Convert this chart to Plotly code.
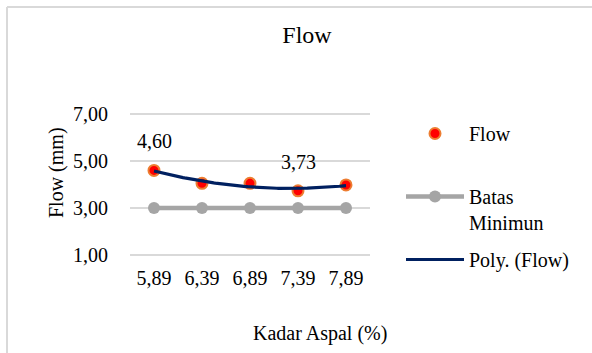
import numpy as np
import plotly.graph_objects as go

# Asphalt content (%) and measured flow (mm)
kadar_aspal = [5.89, 6.39, 6.89, 7.39, 7.89]
flow = [4.60, 4.05, 4.05, 3.73, 3.98]
batas_minimum = [3.00, 3.00, 3.00, 3.00, 3.00]
# which points carry a value label
labelled = [True, False, False, True, False]

y_ticks = [1, 3, 5, 7]

FONT = "Liberation Serif"
idx = list(range(len(kadar_aspal)))
cat_text = [f"{v:.2f}".replace(".", ",") for v in kadar_aspal]

# second-order polynomial trendline of the flow series (index based, like a category axis)
coef = np.polyfit(np.array(idx) + 1, flow, 2)
xs = np.linspace(0, len(idx) - 1, 120)
ys = np.polyval(coef, xs + 1)

# plot area in pixels
L, R, T, B = 130, 370, 112, 257
W, H = R - L, B - T
# value padding so each 2 px gridline sits on whole pixel rows (23.5 px per unit)
PAD = 2 / 23.5


def px_x(p):
    return (p - L) / W


def px_y(p):
    return (B - p) / H


fig = go.Figure()
fig.add_trace(go.Scatter(
    x=idx, y=flow, mode="markers", name="Flow<br>&nbsp;", legendgroup="a",
    marker=dict(size=11, color="#FF0000", line=dict(color="#ED7D31", width=2)),
))
fig.add_trace(go.Scatter(
    x=idx, y=batas_minimum, mode="lines+markers", name="Batas<br>Minimun", legendgroup="b",
    line=dict(color="#A5A5A5", width=4.5),
    marker=dict(size=12, color="#A5A5A5"),
))
fig.add_trace(go.Scatter(
    x=xs, y=ys, mode="lines", name="Poly. (Flow)", legendgroup="c",
    line=dict(color="#002060", width=3.2),
))

# horizontal gridlines at the value ticks, beneath the traces
for t in y_ticks:
    fig.add_shape(type="line", xref="paper", yref="y", x0=0, x1=1, y0=t, y1=t,
                  line=dict(color="#D9D9D9", width=2), layer="between")

# value labels above selected points
for i, v, show in zip(idx, flow, labelled):
    if show:
        fig.add_annotation(x=i, y=v, text=f"{v:.2f}".replace(".", ","), showarrow=False,
                           xanchor="center", yanchor="middle", yshift=29,
                           font=dict(family=FONT, size=20, color="#000000"))

# axis titles
fig.add_annotation(xref="paper", yref="paper", x=px_x(320), y=px_y(333),
                   xanchor="center", yanchor="middle",
                   text="Kadar Aspal (%)", showarrow=False,
                   font=dict(family=FONT, size=20, color="#000000"))
fig.add_annotation(xref="paper", yref="paper", x=px_x(56), y=px_y(173),
                   xanchor="center", yanchor="middle",
                   text="Flow (mm)", textangle=-90, showarrow=False,
                   font=dict(family=FONT, size=20, color="#000000"))

# chart frame
frame = dict(color="#D9D9D9", width=2)
fig.add_shape(type="line", xref="paper", yref="paper",
              x0=px_x(7), x1=3, y0=px_y(7), y1=px_y(7), line=frame)
fig.add_shape(type="line", xref="paper", yref="paper",
              x0=px_x(7), x1=px_x(7), y0=px_y(7), y1=-3, line=frame)

fig.update_layout(
    width=592, height=353,
    margin=dict(l=L, r=592 - R, t=T, b=353 - B),
    paper_bgcolor="white", plot_bgcolor="white",
    separators=",.",
    font=dict(family=FONT, size=20, color="#000000"),
    title=dict(text="Flow", x=307 / 592, xref="container", xanchor="center",
               y=1 - 35 / 353, yref="container", yanchor="middle",
               font=dict(family=FONT, size=24, color="#000000")),
    showlegend=True,
    legend=dict(x=px_x(401), xanchor="left", y=px_y(114), yanchor="top",
                valign="top", tracegroupgap=8, itemwidth=58, maxheight=300,
                bgcolor="rgba(0,0,0,0)", font=dict(family=FONT, size=20, color="#000000")),
    xaxis=dict(range=[-0.5, len(idx) - 0.5], tickvals=idx, ticktext=cat_text,
               showgrid=False, zeroline=False, showline=False, ticks="",
               ticklabelstandoff=7, fixedrange=True),
    yaxis=dict(range=[y_ticks[0] - PAD, y_ticks[-1] + PAD], tickvals=y_ticks, tickformat=".2f",
               showgrid=False, zeroline=False, showline=False, ticks="",
               ticklabelstandoff=21),
)

fig.write_html("out.html")
